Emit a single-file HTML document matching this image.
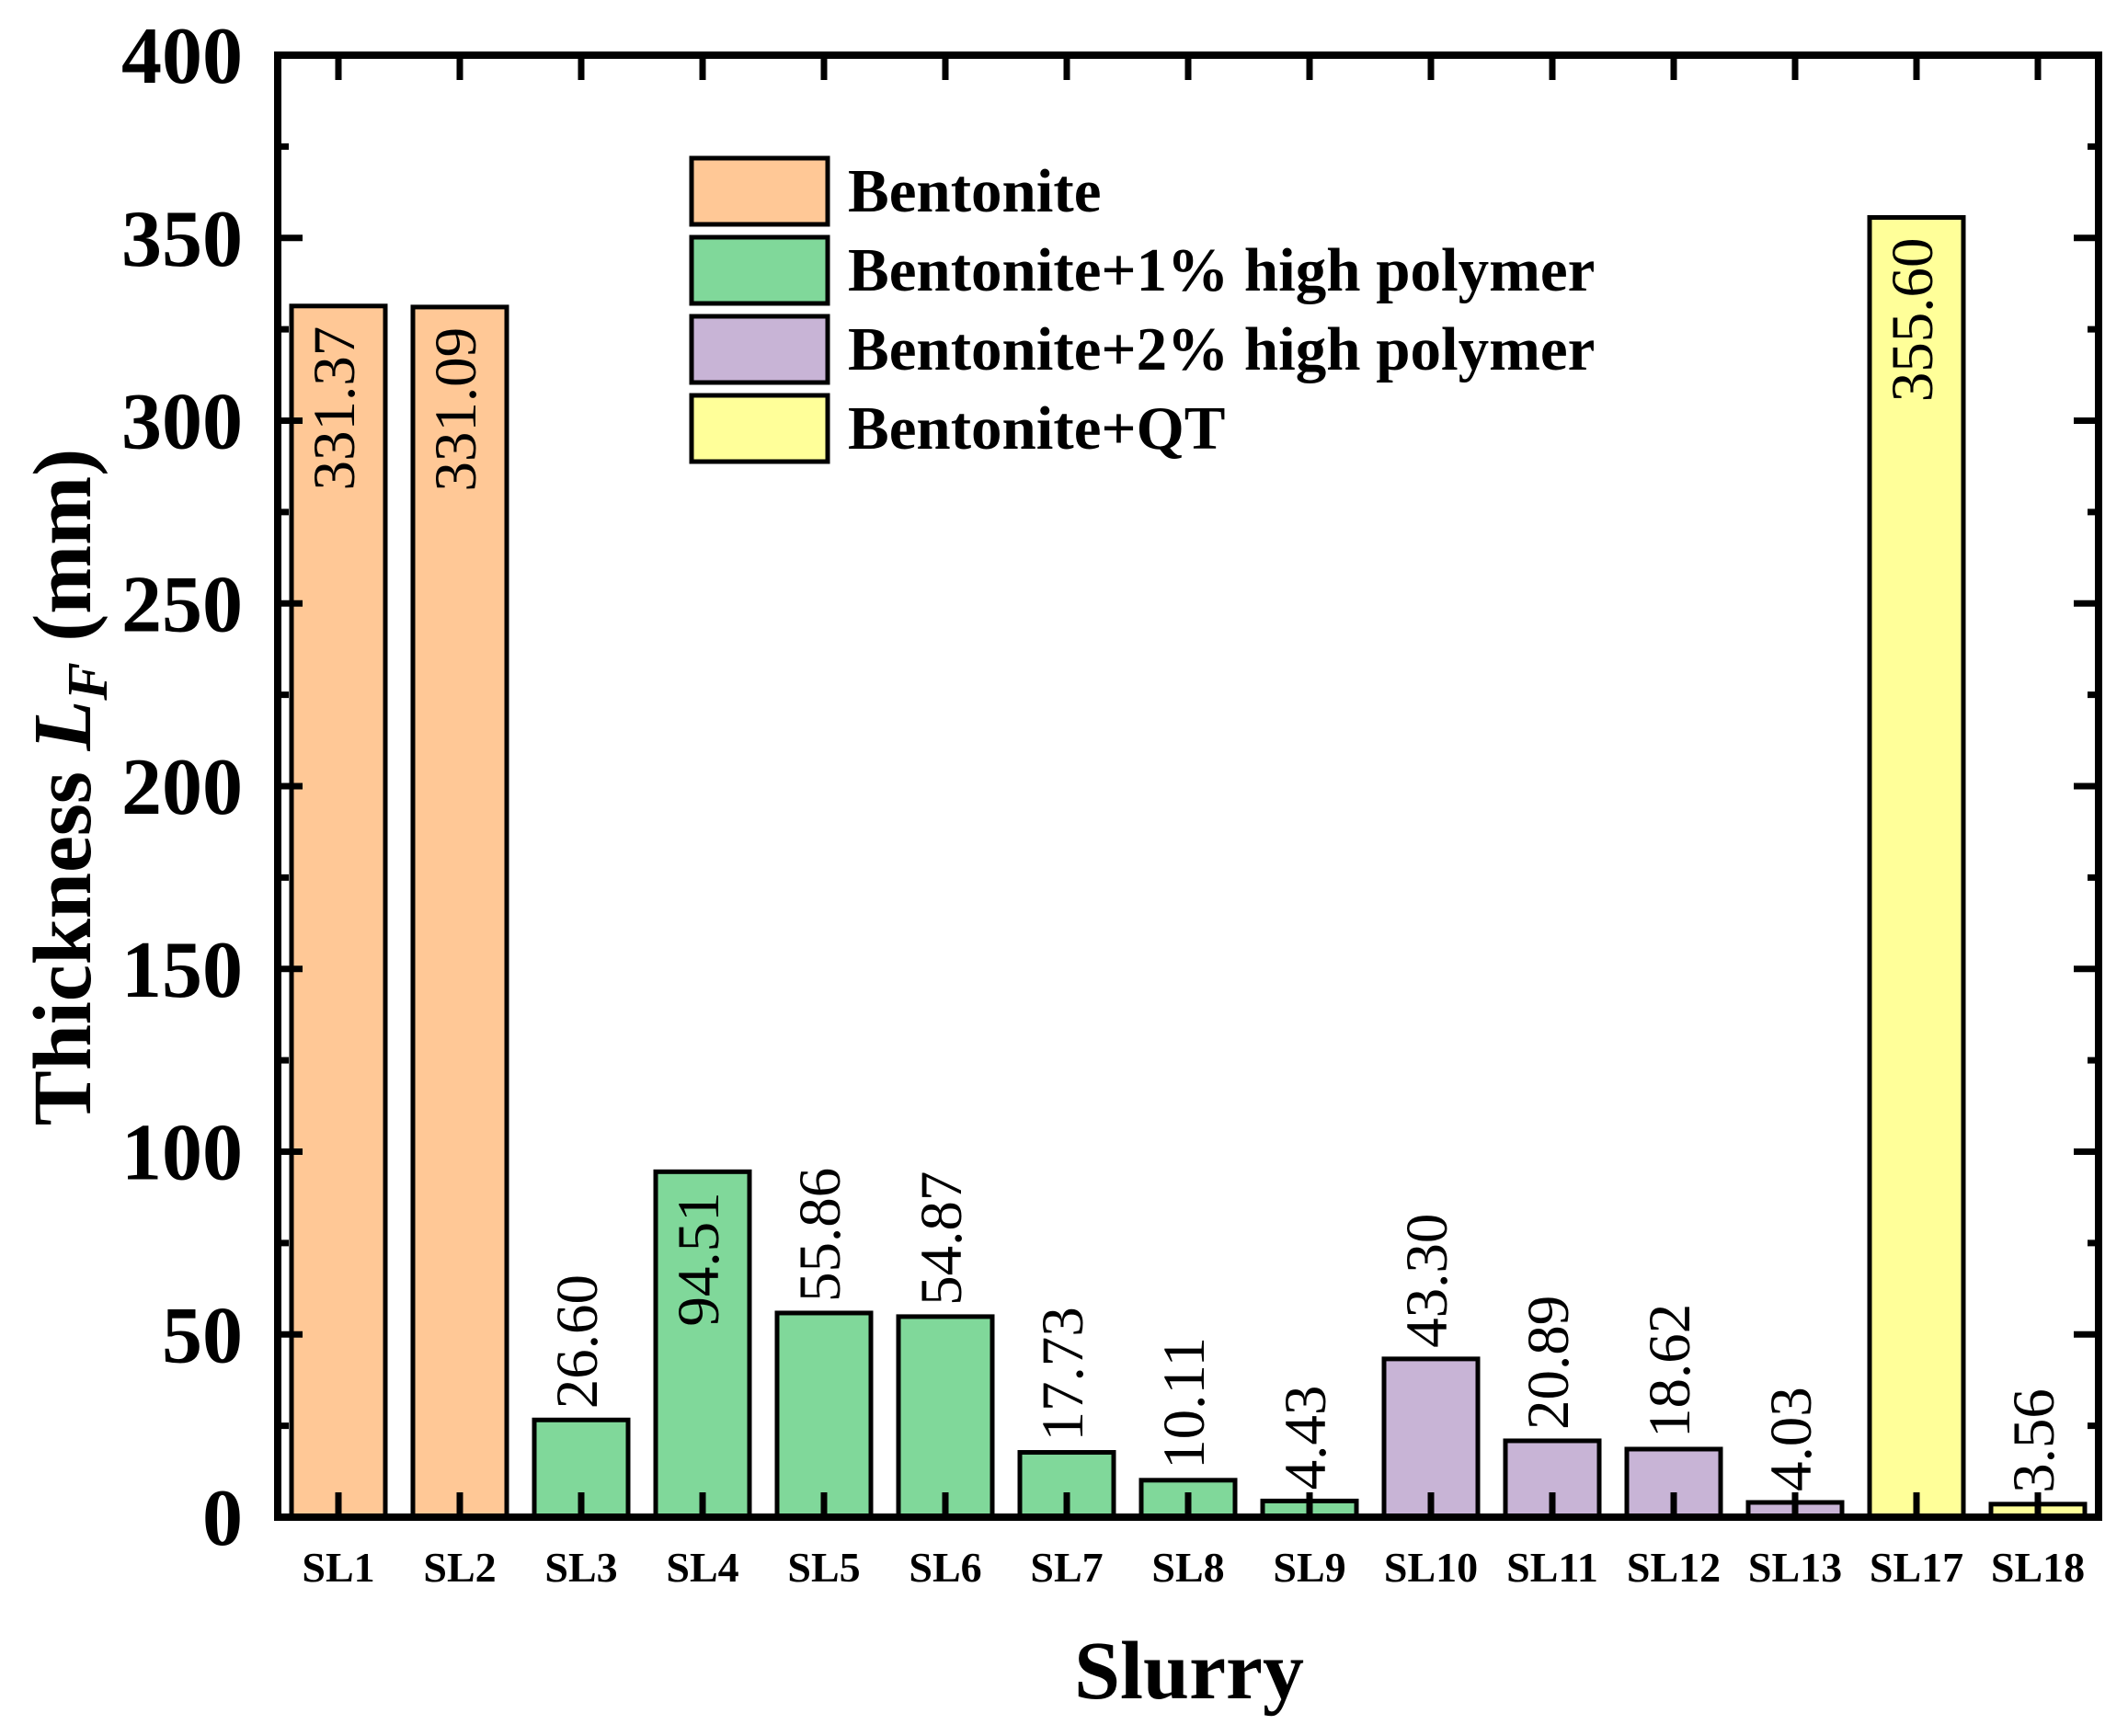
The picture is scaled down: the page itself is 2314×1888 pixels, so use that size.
<!DOCTYPE html>
<html><head><meta charset="utf-8"><style>
html,body{margin:0;padding:0;background:#fff;}
svg{display:block;}
text{font-family:"Liberation Serif","Times New Roman",serif;}
</style></head>
<body>
<svg id="chart" width="2314" height="1888" viewBox="0 0 2314 1888" xmlns="http://www.w3.org/2000/svg"></svg>
<script>
const categories = ["SL1","SL2","SL3","SL4","SL5","SL6","SL7","SL8","SL9","SL10","SL11","SL12","SL13","SL17","SL18"];
const values = [331.37,331.09,26.60,94.51,55.86,54.87,17.73,10.11,4.43,43.30,20.89,18.62,4.03,355.60,3.56];
const groups = [0,0,1,1,1,1,1,1,1,2,2,2,2,3,3];
const groupNames = ["Bentonite","Bentonite+1% high polymer","Bentonite+2% high polymer","Bentonite+QT"];
const insideLabel = [true,true,false,true,false,false,false,false,false,false,false,false,false,true,false];
const yTicks = [0,50,100,150,200,250,300,350,400];

const colors = ["#FFC896","#80D89A","#C8B4D6","#FFFF99"];
const svg = document.getElementById('chart');
const NS = "http://www.w3.org/2000/svg";
const L = 302, R = 2282, T = 60, B = 1650;
const yMax = 400;
const band = (R - L) / categories.length;
const xc = i => L + band * (i + 0.5);
const y = v => B - (v / yMax) * (B - T);
function mk(tag, attrs, parent) {
  const e = document.createElementNS(NS, tag);
  for (const k in attrs) e.setAttribute(k, attrs[k]);
  (parent || svg).appendChild(e);
  return e;
}

// bars
const barW = 102;
categories.forEach((c, i) => {
  const r = mk('rect', {x: xc(i) - barW/2, y: y(values[i]), width: barW, height: B - y(values[i]), fill: colors[groups[i]], stroke: '#000', 'stroke-width': 5});
  
  
});

// ticks
const tk = mk('g', {stroke: '#000', 'stroke-width': 7});


categories.forEach((c, i) => {
  mk('line', {x1: xc(i), x2: xc(i), y1: B, y2: B - 27}, tk);
  mk('line', {x1: xc(i), x2: xc(i), y1: T, y2: T + 27}, tk);
});
for (let v = 0; v <= yMax; v += 25) {
  const major = v % 50 === 0;
  const len = major ? 27 : 12;
  mk('line', {x1: L, x2: L + len, y1: y(v), y2: y(v)}, tk);
  mk('line', {x1: R, x2: R - len, y1: y(v), y2: y(v)}, tk);
}

// value labels
categories.forEach((c, i) => {
  const cx = xc(i) - 4;
  let t;
  if (insideLabel[i]) {
    const ty = y(values[i]) + 22;
    t = mk('text', {x: 0, y: 0, transform: `translate(${cx},${ty}) rotate(-90)`, 'text-anchor': 'end', 'dominant-baseline': 'central', 'font-size': 65});
  } else {
    const ty = y(values[i]) - 12;
    t = mk('text', {x: 0, y: 0, transform: `translate(${cx},${ty}) rotate(-90)`, 'text-anchor': 'start', 'dominant-baseline': 'central', 'font-size': 65});
  }
  t.textContent = values[i].toFixed(2);
  
  
});

// frame
const fr = mk('rect', {x: L, y: T, width: R - L, height: B - T, fill: 'none', stroke: '#000', 'stroke-width': 8});



// y tick labels
yTicks.forEach(v => {
  const t = mk('text', {x: 264, y: y(v) + 30, 'text-anchor': 'end', 'font-size': 88, 'font-weight': 'bold'});
  t.textContent = v;
  
  
});
// x tick labels
categories.forEach((c, i) => {
  const t = mk('text', {x: xc(i), y: 1720, 'text-anchor': 'middle', 'font-size': 46, 'font-weight': 'bold'});
  t.textContent = c;
  
  
});

// legend
const lg = mk('g', {});


groupNames.forEach((n, k) => {
  const ly = 172 + k * 86;
  const g = mk('g', {}, lg);
  
  
  mk('rect', {x: 752, y: ly, width: 148, height: 72, fill: colors[k], stroke: '#000', 'stroke-width': 5}, g);
  const t = mk('text', {x: 922, y: ly + 58, 'font-size': 67, 'font-weight': 'bold'}, g);
  t.textContent = n;
});

// axis titles
const xt = mk('text', {x: 1293, y: 1847, 'text-anchor': 'middle', 'font-size': 90, 'font-weight': 'bold'});
xt.textContent = 'Slurry';



const yt = mk('text', {x: 0, y: 0, transform: 'translate(98,856) rotate(-90)', 'text-anchor': 'middle', 'font-size': 90, 'font-weight': 'bold'});


const s1 = mk('tspan', {}, yt); s1.textContent = 'Thickness ';
const s2 = mk('tspan', {'font-style': 'italic'}, yt); s2.textContent = 'L';
const s3 = mk('tspan', {'font-style': 'italic', 'font-size': 62, dy: 18}, yt); s3.textContent = 'F';
const s4 = mk('tspan', {dy: -18}, yt); s4.textContent = ' (mm)';
</script>
</body></html>
